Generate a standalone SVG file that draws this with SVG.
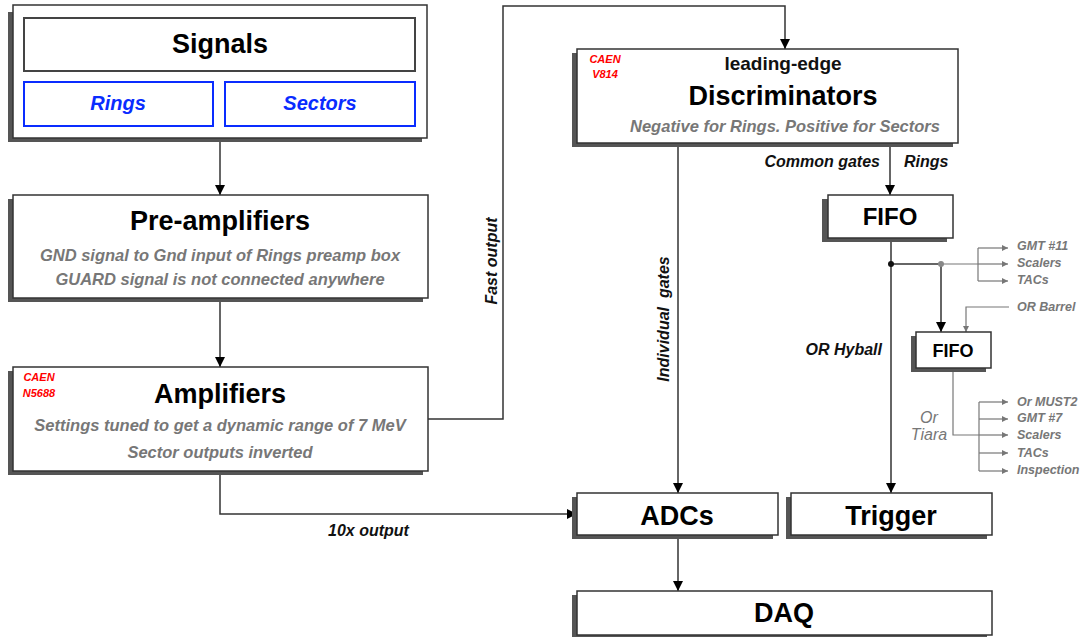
<svg xmlns="http://www.w3.org/2000/svg" width="1084" height="637" viewBox="0 0 1084 637">
<style>
text{font-family:"Liberation Sans",Arial,sans-serif;font-weight:bold}
.box{fill:#fff;stroke:#333;stroke-width:1.5}
.sh{fill:#555}
.title{font-size:27px;fill:#000;text-anchor:middle}
.sub{font-size:16.5px;fill:#777;font-style:italic;text-anchor:middle}
.caen{font-size:11px;fill:#f00;font-style:italic;text-anchor:middle}
.blue{fill:#fff;stroke:#0a2cff;stroke-width:2}
.bl{font-size:20px;fill:#0a2cff;font-style:italic;text-anchor:middle}
.lbl{font-size:16px;fill:#111;font-style:italic;white-space:pre}
.sm{font-size:12.5px;fill:#777;font-style:italic}
.c{fill:none;stroke:#333;stroke-width:1.5}
.g{fill:none;stroke:#777;stroke-width:1.2}
</style>
<defs>
<marker id="ah" viewBox="0 0 10 10" refX="10" refY="5" markerWidth="10" markerHeight="10" markerUnits="userSpaceOnUse" orient="auto"><path d="M0,0L10,5L0,10z" fill="#000"/></marker>
<marker id="ag" viewBox="0 0 10 10" refX="10" refY="5" markerWidth="7" markerHeight="6" markerUnits="userSpaceOnUse" orient="auto"><path d="M0,0L10,5L0,10z" fill="#777"/></marker>
</defs>
<g id="connectors">
<path class="c" d="M220,138V195" marker-end="url(#ah)"/>
<path class="c" d="M220,298V367" marker-end="url(#ah)"/>
<path class="c" d="M428,419H503V6H785V49" marker-end="url(#ah)"/>
<path class="c" d="M220,471V514H577" marker-end="url(#ah)"/>
<path class="c" d="M678,143V493" marker-end="url(#ah)"/>
<path class="c" d="M890,143V195" marker-end="url(#ah)"/>
<path class="c" d="M891,238V493" marker-end="url(#ah)"/>
<path class="c" d="M678,535V591" marker-end="url(#ah)"/>
<path class="c" d="M891,264H941"/>
<path class="c" d="M941,264V332" marker-end="url(#ah)"/>
<path class="g" d="M941,264H978"/>
<path class="g" d="M978,248V281"/>
<path class="g" d="M978,248H1008" marker-end="url(#ag)"/>
<path class="g" d="M978,264H1008" marker-end="url(#ag)"/>
<path class="g" d="M978,281H1008" marker-end="url(#ag)"/>
<circle cx="891" cy="264" r="3" fill="#111"/>
<circle cx="941" cy="264" r="3" fill="#888"/>
<path class="g" d="M1009,307H966V332" marker-end="url(#ag)"/>
<path class="g" d="M953,368V435H979"/>
<path class="g" d="M979,402V471"/>
<path class="g" d="M979,402H1008" marker-end="url(#ag)"/>
<path class="g" d="M979,419H1008" marker-end="url(#ag)"/>
<path class="g" d="M979,435H1008" marker-end="url(#ag)"/>
<path class="g" d="M979,453H1008" marker-end="url(#ag)"/>
<path class="g" d="M979,471H1008" marker-end="url(#ag)"/>
<text class="lbl" transform="translate(497,261) rotate(-90)" text-anchor="middle">Fast output</text>
<text class="lbl" transform="translate(669,319) rotate(-90)" text-anchor="middle">Individual  gates</text>
<text class="lbl" x="880" y="167" text-anchor="end">Common gates</text>
<text class="lbl" x="904" y="167">Rings</text>
<text class="lbl" x="882" y="355" text-anchor="end">OR Hyball</text>
<text class="lbl" x="328" y="536">10x output</text>
<text class="sm" x="1017" y="250">GMT #11</text>
<text class="sm" x="1017" y="267">Scalers</text>
<text class="sm" x="1017" y="284">TACs</text>
<text class="sm" x="1017" y="311">OR Barrel</text>
<text class="sm" x="1017" y="406">Or MUST2</text>
<text class="sm" x="1017" y="422">GMT #7</text>
<text class="sm" x="1017" y="439">Scalers</text>
<text class="sm" x="1017" y="457">TACs</text>
<text class="sm" x="1017" y="474">Inspection</text>
<text x="929" y="423" style="font-size:16px;fill:#777;font-style:italic;font-weight:normal" text-anchor="middle">Or</text>
<text x="929" y="440" style="font-size:16px;fill:#777;font-style:italic;font-weight:normal" text-anchor="middle">Tiara</text>
</g>
<g id="signals">
<rect class="sh" x="8" y="12" width="414" height="130"/>
<rect class="box" x="13" y="5" width="414" height="133"/>
<rect x="24" y="18" width="391" height="53" fill="#fff" stroke="#444" stroke-width="2"/>
<text class="title" x="220" y="53">Signals</text>
</g>
<g id="rings">
<rect class="blue" x="24" y="82" width="189" height="44"/>
<text class="bl" x="118" y="110">Rings</text>
</g>
<g id="sectors">
<rect class="blue" x="225" y="82" width="190" height="44"/>
<text class="bl" x="320" y="110">Sectors</text>
</g>
<g id="preamplifiers">
<rect class="sh" x="8" y="199" width="415" height="103"/>
<rect class="box" x="13" y="195" width="415" height="103"/>
<text class="title" x="220" y="230">Pre-amplifiers</text>
<text class="sub" x="220" y="261">GND signal to Gnd input of Rings preamp box</text>
<text class="sub" x="220" y="285">GUARD signal is not connected anywhere</text>
</g>
<g id="amplifiers">
<rect class="sh" x="8" y="371" width="415" height="104"/>
<rect class="box" x="13" y="367" width="415" height="104"/>
<text class="caen" x="39" y="381">CAEN</text>
<text class="caen" x="39" y="397">N5688</text>
<text class="title" x="220" y="403">Amplifiers</text>
<text class="sub" x="220" y="431">Settings tuned to get a dynamic range of 7 MeV</text>
<text class="sub" x="220" y="458">Sector outputs inverted</text>
</g>
<g id="discriminators">
<rect class="sh" x="572" y="53" width="381" height="94"/>
<rect class="box" x="577" y="49" width="381" height="94"/>
<text class="caen" x="605" y="63">CAEN</text>
<text class="caen" x="605" y="78">V814</text>
<text x="783" y="70" style="font-size:19px;fill:#111" text-anchor="middle">leading-edge</text>
<text class="title" x="783" y="105">Discriminators</text>
<text class="sub" x="785" y="132">Negative for Rings. Positive for Sectors</text>
</g>
<g id="fifo1">
<rect class="sh" x="822" y="199" width="125" height="43"/>
<rect class="box" x="828" y="195" width="125" height="43"/>
<text x="890" y="225" style="font-size:24px;fill:#000" text-anchor="middle">FIFO</text>
</g>
<g id="fifo2">
<rect class="sh" x="911" y="336" width="75" height="36"/>
<rect class="box" x="916" y="332" width="75" height="36"/>
<text x="953" y="357" style="font-size:18px;fill:#000" text-anchor="middle">FIFO</text>
</g>
<g id="adcs">
<rect class="sh" x="572" y="497" width="201" height="42"/>
<rect class="box" x="577" y="493" width="201" height="42"/>
<text class="title" x="677" y="525">ADCs</text>
</g>
<g id="trigger">
<rect class="sh" x="786" y="497" width="201" height="42"/>
<rect class="box" x="791" y="493" width="201" height="42"/>
<text class="title" x="891" y="525">Trigger</text>
</g>
<g id="daq">
<rect class="sh" x="572" y="595" width="415" height="42"/>
<rect class="box" x="577" y="591" width="415" height="44"/>
<text class="title" x="784" y="622">DAQ</text>
</g>
</svg>
